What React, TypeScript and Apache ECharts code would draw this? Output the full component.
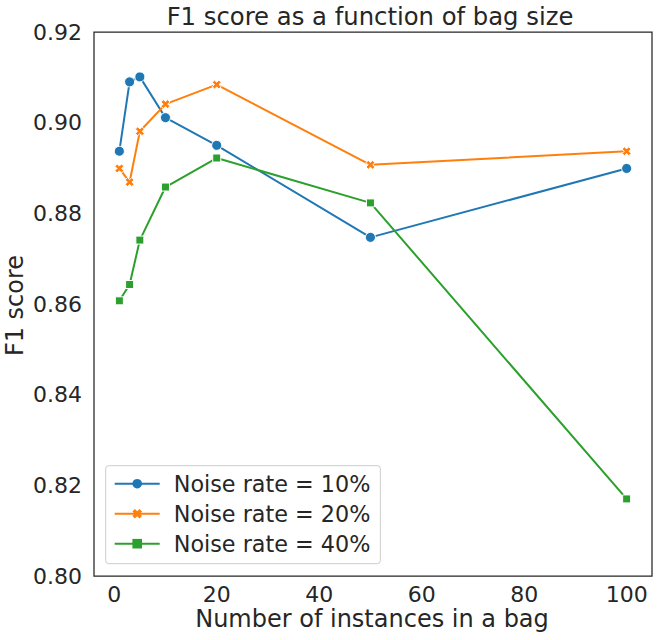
import React, { useEffect, useRef } from "react";
import * as echarts from "echarts";

const bagSizes = [1, 3, 5, 10, 20, 50, 100];
const noise10 = [0.8937, 0.909, 0.9101, 0.9011, 0.895, 0.8747, 0.8899];
const noise20 = [0.8899, 0.8869, 0.8981, 0.9041, 0.9084, 0.8907, 0.8937];
const noise40 = [0.8607, 0.8643, 0.8741, 0.8858, 0.8922, 0.8823, 0.817];
const seriesNames = ["Noise rate = 10%", "Noise rate = 20%", "Noise rate = 40%"];
const xTicks = [0, 20, 40, 60, 80, 100];

const TEXT = "#262626";
const FONT = "DejaVu Sans";
const X_PATH =
  "path://M0,2.6L2.6,0L5,2.4L7.4,0L10,2.6L7.6,5L10,7.4L7.4,10L5,7.6L2.6,10L0,7.4L2.4,5Z";

export default function App() {
  const ref = useRef<HTMLDivElement>(null);
  useEffect(() => {
    if (!ref.current) return;
    const chart = echarts.init(ref.current, undefined, { renderer: "svg" });
    const mk = (name: string, vals: number[], color: string, symbol: string, size: number) => ({
      name,
      type: "line",
      data: bagSizes.map((x, i) => [x, vals[i]]),
      symbol,
      symbolSize: size,
      showAllSymbol: true,
      lineStyle: { color, width: 2 },
      itemStyle: { color, borderColor: "#ffffff", borderWidth: 1 },
      z: 3,
    });
    chart.setOption({
      animation: false,
      textStyle: { fontFamily: FONT, color: TEXT },
      grid: {
        left: 94,
        right: 6,
        top: 32,
        bottom: 64,
        show: true,
        borderColor: TEXT,
        borderWidth: 1.25,
        backgroundColor: "transparent",
      },
      xAxis: {
        type: "value",
        min: -3.95,
        max: 104.95,
        axisLine: { show: false },
        axisTick: { show: false },
        splitLine: { show: false },
        axisLabel: {
          customValues: xTicks,
          fontSize: 22,
          color: TEXT,
          fontFamily: FONT,
          margin: 7,
        },
      },
      yAxis: {
        type: "value",
        min: 0.8,
        max: 0.92,
        interval: 0.02,
        axisLine: { show: false },
        axisTick: { show: false },
        splitLine: { show: false },
        axisLabel: {
          fontSize: 22,
          color: TEXT,
          fontFamily: FONT,
          margin: 12,
          formatter: (v: number) => v.toFixed(2),
        },
      },
      legend: {
        orient: "vertical",
        left: 105.7,
        top: 465.7,
        itemWidth: 45,
        itemHeight: 12,
        itemGap: 4,
        padding: [5, 10, 7, 8],
        backgroundColor: "rgba(255,255,255,0.8)",
        borderColor: "#cccccc",
        borderWidth: 1,
        borderRadius: 3,
        itemStyle: { borderWidth: 0 },
        lineStyle: { width: 2 },
        textStyle: {
          fontSize: 22.3,
          lineHeight: 26,
          color: TEXT,
          fontFamily: FONT,
          padding: [0, 0, 0, 9],
        },
        data: seriesNames,
      },
      graphic: [
        {
          type: "text",
          x: 370,
          y: 16,
          style: {
            text: "F1 score as a function of bag size",
            fontSize: 24.3,
            fontFamily: FONT,
            fill: TEXT,
            textAlign: "center",
            textVerticalAlign: "middle",
          },
        },
        {
          type: "text",
          x: 372,
          y: 618.5,
          style: {
            text: "Number of instances in a bag",
            fontSize: 24,
            fontFamily: FONT,
            fill: TEXT,
            textAlign: "center",
            textVerticalAlign: "middle",
          },
        },
        {
          type: "text",
          x: 15,
          y: 305.5,
          rotation: Math.PI / 2,
          style: {
            text: "F1 score",
            fontSize: 24,
            fontFamily: FONT,
            fill: TEXT,
            textAlign: "center",
            textVerticalAlign: "middle",
          },
        },
      ],
      series: [
        mk(seriesNames[0], noise10, "#1f77b4", "circle", 10),
        mk(seriesNames[1], noise20, "#ff7f0e", X_PATH, 9),
        mk(seriesNames[2], noise40, "#2ca02c", "rect", 8),
      ],
    });
    return () => chart.dispose();
  }, []);
  return <div ref={ref} style={{ width: 658, height: 640, position: "absolute", left: 0, top: 0 }} />;
}
